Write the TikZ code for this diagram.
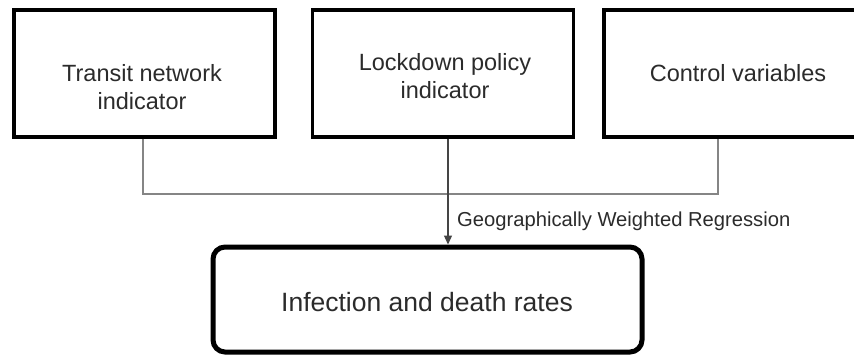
\documentclass[tikz,border=0pt]{standalone}
\usepackage{fontspec}
\setmainfont{Liberation Sans}
\usetikzlibrary{arrows.meta,calc}
\definecolor{txtc}{HTML}{2B2B2B}
\definecolor{connc}{HTML}{858585}
\definecolor{arrc}{HTML}{454545}
\tikzset{
  topbox/.style={draw=black, line width=3.2pt, fill=white, inner sep=0pt, minimum width=261pt, minimum height=127pt},
  botbox/.style={draw=black, line width=5pt, rounded corners=12pt, fill=white, inner sep=0pt, minimum width=429pt, minimum height=105pt},
  boxtext/.style={text=txtc, align=center, font=\fontsize{23.5}{28}\selectfont, inner sep=0pt},
  bottext/.style={text=txtc, align=center, font=\fontsize{26.5}{32}\selectfont, inner sep=0pt},
  lbltext/.style={text=txtc, anchor=west, font=\fontsize{20.2}{24}\selectfont, inner sep=0pt},
  conn/.style={draw=connc, line width=1.5pt},
  arr/.style={draw=arrc, line width=1.3pt, -{Triangle[length=9pt,width=8pt]}}
}
\begin{document}
\begin{tikzpicture}[x=1pt,y=-1pt]
\useasboundingbox (0,0) rectangle (854,354);
\fill[white] (0,0) rectangle (854,354);
\clip (0,0) rectangle (854,354);
% boxes
\node[topbox] (b1) at (144.5,73.5) {};
\node[topbox] (b2) at (443,73.5) {};
\node[topbox] (b3) at (734.5,73.5) {};
\node[botbox] (bot) at (427.5,299.5) {};
% texts
\node[boxtext] (t1) at (142,87) {Transit network\\indicator};
\node[boxtext] (t2) at (445,76) {Lockdown policy\\indicator};
\node[boxtext] (t3) at (738,73) {Control variables};
\node[bottext] (t4) at (427,302) {Infection and death rates};
% connectors
\coordinate (j) at (448,194);
\coordinate (d1) at (143,194);
\coordinate (d3) at (718,194);
\draw[conn] (b1.south -| d1) -- (d1) -- (d3) -- (b3.south -| d3);
\draw[arr] (b2.south -| j) -- (bot.north -| j);
\node[lbltext] (lbl) at (457,221) {Geographically Weighted Regression};
\end{tikzpicture}
\end{document}
